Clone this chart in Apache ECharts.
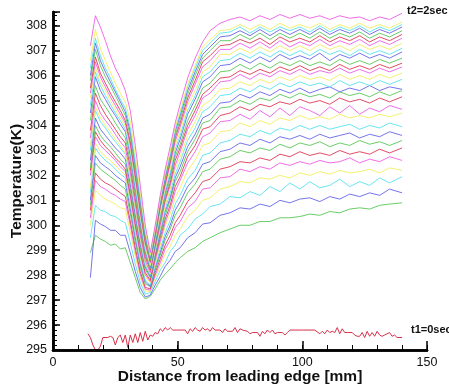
<!DOCTYPE html>
<html>
<head>
<meta charset="utf-8">
<script src="https://cdn.jsdelivr.net/npm/echarts@6/dist/echarts.min.js"></script>
<style>html,body{margin:0;padding:0;background:#fff;}#chart{width:449px;height:389px;}</style>
</head>
<body>
<div id="chart"></div>
<script>
// ---- data ----
const distanceMm = [15,17,19,21,23,25,27,29,31,33,35,37,39,41,43,45,47,49,51,54,57,60,63,67,71,75,79,83,87,91,95,99,103,107,111,115,119,123,127,131,135,140];
const yTickValues = [295,296,297,298,299,300,301,302,303,304,305,306,307,308];
const xTickValues = [0,50,100,150];

const t01 = [298.9,299.6,299.45,299.35,299.2,299.25,299.05,299.1, 298.5,297.9,297.3,297.05,297.15, 297.45,297.8,298.05,298.25,298.5,298.7,298.95,299.1,299.35,299.5, 299.7,299.85,300.0,300.0,300.15,300.15,300.3,300.3,300.35,300.45,300.4,300.55,300.5,300.65,300.7,300.65,300.8,300.85,300.9];
const t02 = [297.9,300.2,300.05,299.95,299.8,299.8,299.6,299.6, 298.9,298.15,297.5,297.12,297.2, 297.6,297.95,298.35,298.6,298.95,299.1,299.5,299.7,300.05,300.1, 300.4,300.5,300.7,300.65,300.85,300.75,301.0,300.9,301.05,301.1,300.95,301.15,301.05,301.25,301.15,301.3,301.2,301.45,301.3];
const t03 = [299.5,300.8,300.6,300.55,300.4,300.35,300.2,300.1, 299.3,298.45,297.7,297.24,297.3, 297.75,298.2,298.5,298.95,299.2,299.6,299.85,300.25,300.45,300.75, 300.85,301.15,301.1,301.35,301.2,301.55,301.35,301.7,301.45,301.75,301.5,301.6,301.85,301.55,301.75,301.6,301.9,301.7,301.95];
const t04 = [300.0,301.4,301.2,301.05,300.95,300.85,300.7,300.65, 299.72,298.76,297.9,297.36,297.35, 297.9,298.35,298.85,299.15,299.6,299.85,300.35,300.6,301.0,301.1, 301.45,301.55,301.75,301.7,301.9,301.85,302.0,301.9,302.1,302.0,302.15,302.05,302.2,302.1,302.15,302.25,302.1,302.3,302.2];
const t05 = [300.3,301.8,301.55,301.45,301.3,301.2,301.05,300.95, 300.0,298.95,298.03,297.44,297.4, 298.0,298.5,299.05,299.4,299.9,300.15,300.7,300.95,301.45,301.5, 301.9,301.95,302.25,302.15,302.35,302.25,302.5,302.4,302.55,302.45,302.6,302.5,302.55,302.7,302.5,302.65,302.55,302.75,302.6];
const t06 = [300.6,302.1,301.85,301.7,301.6,301.45,301.3,301.15, 300.17,299.1,298.14,297.51,297.45, 298.1,298.65,299.2,299.6,300.1,300.4,300.95,301.3,301.75,301.85, 302.25,302.35,302.55,302.5,302.7,302.6,302.85,302.75,302.95,302.8,302.9,302.8,303.0,302.85,302.95,302.85,303.05,302.9,303.1];
const t07 = [300.8,302.5,302.25,302.1,301.95,301.8,301.6,301.45, 300.46,299.34,298.33,297.64,297.55, 298.2,298.8,299.4,299.85,300.4,300.7,301.3,301.65,302.15,302.25, 302.65,302.75,303.0,302.9,303.1,303.0,303.25,303.1,303.3,303.2,303.35,303.15,303.3,303.2,303.4,303.25,303.35,303.2,303.4];
const t08 = [301.0,302.8,302.5,302.35,302.2,302.0,301.85,301.7, 300.66,299.5,298.45,297.73,297.55, 298.3,298.9,299.55,300.0,300.6,300.95,301.55,301.9,302.45,302.55, 302.95,303.05,303.3,303.2,303.45,303.3,303.55,303.45,303.6,303.45,303.65,303.5,303.6,303.7,303.5,303.65,303.55,303.75,303.6];
const t09 = [301.3,303.1,302.8,302.6,302.45,302.25,302.05,301.9, 300.86,299.67,298.57,297.81,297.6, 298.4,299.05,299.7,300.2,300.85,301.2,301.85,302.2,302.8,302.9, 303.3,303.4,303.65,303.55,303.8,303.65,303.9,303.8,304.0,303.85,304.0,303.85,303.95,304.05,303.85,304.0,303.9,304.1,303.95];
const t10 = [301.5,303.3,302.95,302.75,302.6,302.4,302.2,302.0, 300.99,299.81,298.72,297.94,297.7, 298.5,299.2,299.95,300.45,301.1,301.5,302.2,302.6,303.2,303.3, 303.75,303.8,304.1,303.95,304.2,304.05,304.3,304.2,304.4,304.25,304.35,304.25,304.45,304.3,304.4,304.3,304.45,304.35,304.5];
const t11 = [302.0,303.55,303.2,303.0,302.8,302.6,302.35,302.15, 301.15,299.95,298.83,298.02,297.75, 298.6,299.35,300.1,300.65,301.35,301.8,302.5,302.95,303.55,303.7, 304.15,304.2,304.45,304.25,304.6,304.35,304.7,304.4,304.75,304.6,304.4,304.75,304.5,304.8,304.45,304.7,304.55,304.8,304.65];
const t12 = [302.2,303.75,303.4,303.15,302.95,302.7,302.5,302.25, 301.27,300.07,298.94,298.1,297.8, 298.7,299.5,300.25,300.8,301.55,301.95,302.75,303.2,303.85,303.95, 304.4,304.5,304.75,304.6,304.85,304.75,304.95,304.85,305.05,304.9,305.0,304.85,305.1,304.95,305.05,304.9,305.1,304.95,305.15];
const t13 = [302.3,304.0,303.6,303.35,303.15,302.9,302.65,302.45, 301.45,300.24,299.11,298.23,297.9, 298.8,299.6,300.4,301.0,301.75,302.15,302.95,303.45,304.1,304.2, 304.7,304.75,305.0,304.85,305.1,305.0,305.25,305.1,305.3,305.15,305.25,305.1,305.35,305.2,305.3,305.15,305.35,305.2,305.4];
const t14 = [302.6,304.3,303.85,303.6,303.35,303.1,302.9,302.65, 301.65,300.42,299.24,298.32,297.95, 298.85,299.7,300.55,301.1,301.9,302.35,303.15,303.65,304.3,304.45, 304.9,304.95,305.25,305.1,305.35,305.2,305.45,305.3,305.5,305.3,305.45,305.55,305.35,305.5,305.4,305.6,305.4,305.55,305.45];
const t15 = [303.0,304.6,304.15,303.9,303.6,303.35,303.1,302.85, 301.86,300.6,299.38,298.41,298.0, 298.95,299.8,300.65,301.3,302.05,302.55,303.4,303.9,304.55,304.75, 305.2,305.25,305.5,305.35,305.6,305.45,305.7,305.55,305.75,305.6,305.7,305.55,305.8,305.6,305.75,305.6,305.8,305.65,305.85];
const t16 = [303.2,304.75,304.3,304.0,303.75,303.45,303.2,302.9, 301.95,300.7,299.49,298.49,298.05, 299.0,299.9,300.8,301.45,302.25,302.75,303.6,304.15,304.8,305.0, 305.45,305.5,305.75,305.6,305.85,305.7,305.95,305.8,306.0,305.85,305.95,305.8,306.05,305.85,306.0,305.85,306.05,305.9,306.1];
const t17 = [303.5,305.0,304.5,304.2,303.95,303.65,303.35,303.1, 302.12,300.85,299.61,298.58,298.1, 299.1,300.0,300.95,301.6,302.4,302.95,303.85,304.4,305.1,305.3, 305.75,305.8,306.05,305.85,306.1,305.95,306.2,306.05,306.25,306.05,306.2,306.1,306.3,306.1,306.25,306.1,306.3,306.15,306.35];
const t18 = [303.8,305.3,304.8,304.45,304.15,303.85,303.55,303.3, 302.34,301.06,299.8,298.72,298.2, 299.2,300.15,301.05,301.7,302.6,303.1,304.0,304.6,305.25,305.5, 305.9,305.95,306.2,306.05,306.25,306.1,306.35,306.2,306.4,306.2,306.35,306.2,306.45,306.25,306.4,306.25,306.45,306.3,306.5];
const t19 = [304.2,305.6,305.05,304.75,304.45,304.1,303.8,303.5, 302.55,301.25,299.95,298.82,298.25, 299.25,300.2,301.15,301.85,302.75,303.25,304.2,304.8,305.5,305.7, 306.15,306.2,306.45,306.25,306.5,306.3,306.55,306.4,306.6,306.4,306.55,306.4,306.65,306.45,306.6,306.45,306.65,306.5,306.7];
const t20 = [304.5,305.95,305.4,305.05,304.7,304.4,304.05,303.75, 302.8,301.47,300.12,298.93,298.3, 299.3,300.35,301.3,302.0,302.9,303.45,304.45,305.05,305.75,305.95, 306.4,306.45,306.7,306.5,306.75,306.55,306.85,306.65,306.8,306.65,306.9,306.6,306.85,306.7,306.9,306.7,306.85,306.7,306.95];
const t21 = [304.8,306.15,305.6,305.2,304.85,304.5,304.2,303.85, 302.94,301.6,300.24,299.02,298.35, 299.4,300.4,301.4,302.1,303.05,303.6,304.6,305.2,305.95,306.15, 306.6,306.65,306.9,306.7,306.95,306.75,307.0,306.8,307.0,306.8,307.05,306.85,307.0,306.8,307.05,306.85,307.0,306.85,307.1];
const t22 = [305.1,306.35,305.75,305.4,305.0,304.65,304.3,304.0, 303.08,301.74,300.37,299.11,298.4, 299.45,300.5,301.5,302.25,303.2,303.75,304.8,305.4,306.15,306.35, 306.85,306.85,307.1,306.9,307.15,306.95,307.2,307.0,307.2,307.0,307.25,307.05,307.2,307.0,307.25,307.05,307.2,307.05,307.3];
const t23 = [305.3,306.55,305.95,305.55,305.15,304.8,304.45,304.1, 303.22,301.89,300.52,299.25,298.5, 299.55,300.7,301.6,302.45,303.35,303.95,304.95,305.65,306.35,306.6, 307.05,307.05,307.3,307.1,307.35,307.1,307.4,307.15,307.35,307.2,307.45,307.2,307.4,307.25,307.45,307.2,307.4,307.25,307.5];
const t24 = [305.5,306.75,306.1,305.7,305.3,304.95,304.6,304.2, 303.35,302.02,300.65,299.34,298.55, 299.6,300.75,301.7,302.55,303.5,304.1,305.1,305.8,306.55,306.8, 307.2,307.25,307.45,307.3,307.5,307.25,307.55,307.35,307.5,307.35,307.6,307.35,307.55,307.4,307.6,307.35,307.55,307.4,307.65];
const t25 = [305.8,307.05,306.4,305.95,305.6,305.2,304.8,304.4, 303.57,302.2,300.81,299.45,298.6, 299.7,300.8,301.85,302.65,303.6,304.25,305.25,306.0,306.7,307.0, 307.4,307.4,307.65,307.45,307.7,307.45,307.7,307.5,307.7,307.5,307.75,307.5,307.7,307.55,307.75,307.5,307.7,307.55,307.8];
const t26 = [306.0,307.3,306.6,306.15,305.75,305.35,304.95,304.55, 303.76,302.42,301.0,299.59,298.7, 299.8,300.9,301.95,302.8,303.75,304.4,305.4,306.15,306.85,307.15, 307.55,307.6,307.8,307.6,307.85,307.6,307.85,307.65,307.85,307.65,307.9,307.65,307.85,307.7,307.9,307.65,307.85,307.7,307.95];
const t27 = [306.3,307.5,306.8,306.3,305.9,305.45,305.05,304.7, 303.9,302.56,301.13,299.69,298.75, 299.85,301.0,302.05,302.85,303.85,304.5,305.55,306.3,307.0,307.3, 307.7,307.75,307.95,307.7,307.95,307.75,307.95,307.8,307.95,307.75,308.0,307.75,307.95,307.8,308.0,307.75,307.95,307.8,308.05];
const t28 = [306.6,307.85,307.1,306.6,306.15,305.7,305.3,304.95, 304.17,302.8,301.32,299.81,298.8, 299.9,301.05,302.1,302.95,303.95,304.6,305.65,306.4,307.15,307.45, 307.8,307.85,308.05,307.85,308.05,307.85,308.1,307.9,308.05,307.9,308.1,307.85,308.05,307.9,308.1,307.9,308.05,307.9,308.15];
const t29 = [307.2,308.4,307.95,307.4,306.8,306.3,305.9,305.4, 304.6,303.2,301.6,300.0,298.9, 300.0,301.2,302.25,303.15,304.1,304.85,305.9,306.7,307.35,307.8, 308.1,308.25,308.35,308.2,308.4,308.25,308.45,308.3,308.45,308.3,308.4,308.25,308.4,308.3,308.35,308.2,308.35,308.25,308.5];

// t1 = 0 sec profile
const t00Distance = [14,15,16,17,18,19,20,22,23,24,25,26,27,28,29,30,31,32,33,34,35,36,37,38,39,40,41,42,43,44,45,46,47,48,50,53,54,55,56,57,58,59,60,61,62,63,64,65,67,68,69,70,72,73,74,75,76,78,79,80,82,83,84,85,86,87,88,89,90,92,93,94,95,100,105,107,108,109,110,111,112,113,114,115,116,117,118,120,121,122,123,124,125,126,127,128,129,130,131,132,133,135,136,137,138,140];
const t00 = [295.65,295.5,295.2,295.0,295.0,295.15,295.5,295.5,295.55,295.5,295.2,295.5,295.6,295.3,295.6,295.1,295.6,295.3,295.65,295.3,295.7,295.35,295.75,295.4,295.6,295.55,295.7,295.65,295.85,295.75,295.9,295.8,295.9,295.8,295.8,295.8,295.65,295.85,295.75,295.9,295.8,295.75,295.9,295.8,295.85,295.75,295.9,295.8,295.8,295.7,295.85,295.75,295.75,295.9,295.7,295.85,295.8,295.75,295.65,295.7,295.7,295.55,295.75,295.65,295.8,295.7,295.8,295.65,295.7,295.7,295.6,295.7,295.8,295.8,295.8,295.65,295.75,295.65,295.8,295.7,295.75,295.7,295.9,295.65,295.85,295.7,295.7,295.7,295.6,295.55,295.55,295.7,295.5,295.75,295.55,295.7,295.55,295.75,295.6,295.55,295.6,295.7,295.55,295.6,295.5,295.5];

const curves = [t01,t02,t03,t04,t05,t06,t07,t08,t09,t10,t11,t12,t13,t14,t15,t16,t17,t18,t19,t20,t21,t22,t23,t24,t25,t26,t27,t28,t29];

// ---- styles ----
const palette = ['#5ac85a', '#6666ea', '#5ae2ee', '#f2ee62', '#ee5ee6', '#de3a55'];
const FONT = '"Liberation Sans", Arial, Helvetica, sans-serif';
const GRID = { left: 53, right: 22, top: 12, bottom: 39, containLabel: false, outerBoundsMode: 'none' };

const series = [];
curves.forEach((vals, i) => {
  series.push({
    type: 'line',
    name: 't' + (i + 1),
    xAxisIndex: 0, yAxisIndex: 0,
    data: distanceMm.map((x, j) => [x, vals[j]]),
    showSymbol: false,
    symbol: 'none',
    lineStyle: { color: palette[i % 6], width: 1, opacity: 0.9 },
    silent: true,
    z: 2
  });
});
series.push({
  type: 'line',
  name: 't0',
  xAxisIndex: 0, yAxisIndex: 0,
  data: t00Distance.map((x, j) => [x, t00[j]]),
  showSymbol: false,
  symbol: 'none',
  lineStyle: { color: '#d8304a', width: 1 },
  silent: true,
  z: 2
});

const chart = echarts.init(document.getElementById('chart'), null, { renderer: 'canvas' });
chart.setOption({
  animation: false,
  backgroundColor: '#ffffff',
  grid: [Object.assign({}, GRID), Object.assign({}, GRID)],
  xAxis: [{
    gridIndex: 0,
    type: 'value',
    min: 0, max: 150, interval: 50,
    name: 'Distance from leading edge [mm]',
    nameLocation: 'middle',
    nameGap: 19,
    nameMoveOverlap: false,
    nameTextStyle: { fontFamily: FONT, fontWeight: 'bold', fontSize: 15.5, color: '#111', verticalAlign: 'top' },
    axisLine: { show: true, onZero: false, lineStyle: { color: '#000', width: 2.5 } },
    axisTick: { show: true, inside: true, length: 9, lineStyle: { color: '#000', width: 1.5 } },
    axisLabel: { fontFamily: FONT, fontSize: 12.5, color: '#111', margin: 6, customValues: xTickValues },
    splitLine: { show: false },
    z: 5
  }, {
    // minor ticks every 10 mm (overlay grid)
    gridIndex: 1,
    type: 'value',
    min: 0, max: 150, interval: 10,
    position: 'bottom',
    axisLine: { show: true, onZero: false, lineStyle: { color: '#000', width: 2.5 } },
    axisTick: { show: true, inside: true, length: 5, lineStyle: { color: '#000', width: 1 } },
    axisLabel: { show: false },
    splitLine: { show: false },
    z: 5
  }],
  yAxis: [{
    gridIndex: 0,
    type: 'value',
    min: 295, max: 308.55, interval: 1,
    name: 'Temperature(K)',
    nameLocation: 'middle',
    nameGap: 28,
    nameMoveOverlap: false,
    nameRotate: 90,
    nameTextStyle: { fontFamily: FONT, fontWeight: 'bold', fontSize: 15.5, color: '#111' },
    axisLine: { show: true, onZero: false, lineStyle: { color: '#000', width: 2.5 } },
    axisTick: { show: true, inside: true, length: 7, lineStyle: { color: '#000', width: 1.5 } },
    axisLabel: { fontFamily: FONT, fontSize: 12.5, color: '#111', margin: 6, customValues: yTickValues },
    splitLine: { show: false },
    z: 5
  }, {
    // minor ticks every 0.2 K (overlay grid)
    gridIndex: 1,
    type: 'value',
    min: 295, max: 308.55, interval: 0.2,
    position: 'left',
    axisLine: { show: true, onZero: false, lineStyle: { color: '#000', width: 2.5 } },
    axisTick: { show: true, inside: true, length: 4, lineStyle: { color: '#000', width: 1 } },
    axisLabel: { show: false },
    splitLine: { show: false },
    z: 5
  }],
  graphic: [
    { type: 'text', left: 407, top: 5, style: { text: 't2=2sec', font: 'bold 11px ' + FONT, fill: '#111' } },
    { type: 'text', left: 411, top: 324, style: { text: 't1=0sec', font: 'bold 11px ' + FONT, fill: '#111' } }
  ],
  series: series
});
</script>
</body>
</html>
